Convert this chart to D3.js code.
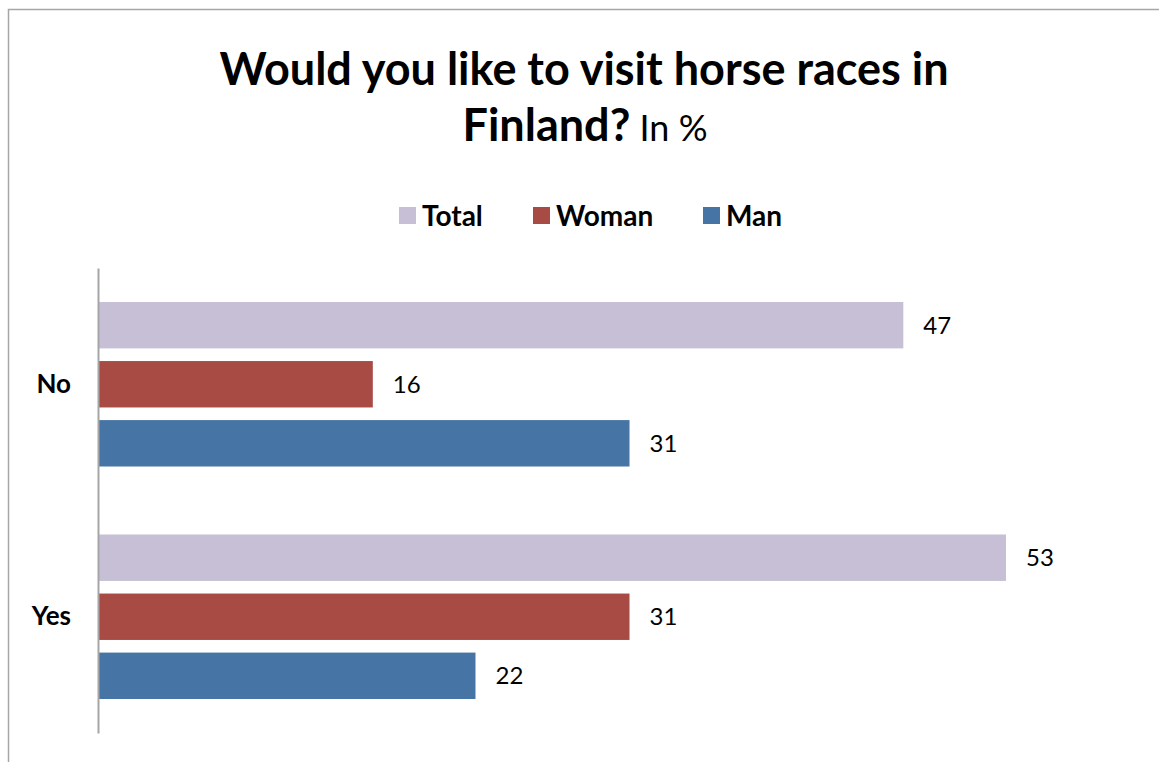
<!DOCTYPE html>
<html>
<head>
<meta charset="utf-8">
<script src="https://cdn.jsdelivr.net/npm/d3@7"></script>
<style>
  html, body { margin: 0; padding: 0; background: #fff; }
  svg { display: block; font-family: Lato, "Open Sans", sans-serif; }
</style>
</head>
<body>
<svg id="chart" width="1159" height="762"></svg>
<script>
// Survey answers, in percent
const categories = ["No", "Yes"];
const seriesNames = ["Total", "Woman", "Man"];
const totalValues = [47, 53];
const womanValues = [16, 31];
const manValues = [31, 22];
const seriesColors = ["#c6bfd6", "#a84b45", "#4674a4"];

const rows = categories.map((c, i) => ({
  category: c,
  values: [totalValues[i], womanValues[i], manValues[i]]
}));

const svg = d3.select("#chart");
const W = 1159, H = 762;

// Chart frame
svg.append("rect")
  .attr("x", 8.5).attr("y", 9.5)
  .attr("width", W + 10).attr("height", H + 10)
  .attr("fill", "#fff").attr("stroke", "#a6a6a6").attr("stroke-width", 1.5);

// Title
const title = svg.append("text").attr("text-anchor", "middle").attr("fill", "#000");
title.append("tspan").attr("x", 584).attr("y", 85)
  .attr("font-size", 45).attr("font-weight", "bold")
  .text("Would you like to visit horse races in");
const t2 = title.append("tspan").attr("x", 585).attr("y", 141);
t2.append("tspan").attr("font-size", 45).attr("font-weight", "bold").text("Finland?");
t2.append("tspan").attr("font-size", 36).attr("font-weight", "normal").text(" In %");

// Legend
const legendX = [399, 533, 703];
const legend = svg.append("g");
seriesNames.forEach((name, i) => {
  const g = legend.append("g").attr("transform", `translate(${legendX[i]},207)`);
  g.append("rect").attr("width", 17).attr("height", 17).attr("fill", seriesColors[i]);
  g.append("text").attr("x", 23).attr("y", 19)
    .attr("font-size", 28).attr("font-weight", "bold").attr("fill", "#000")
    .text(name);
});

// Scales
const x0 = 99;
const x = d3.scaleLinear().domain([0, 53]).range([x0, 1006]);
const y = d3.scaleBand().domain(categories).range([268, 733]);
const ySeries = d3.scaleBand().domain(seriesNames)
  .range([34, y.bandwidth() - 34]).paddingInner(0.214);

// Bars and value labels
const groups = svg.append("g").selectAll("g")
  .data(rows).join("g")
  .attr("transform", d => `translate(0,${y(d.category)})`);

groups.selectAll("rect")
  .data(d => d.values.map((v, i) => ({ v, i })))
  .join("rect")
  .attr("x", x(0))
  .attr("y", d => ySeries(seriesNames[d.i]))
  .attr("width", d => x(d.v) - x(0))
  .attr("height", ySeries.bandwidth())
  .attr("fill", d => seriesColors[d.i]);

groups.selectAll("text")
  .data(d => d.values.map((v, i) => ({ v, i })))
  .join("text")
  .attr("x", d => x(d.v) + 20)
  .attr("y", d => ySeries(seriesNames[d.i]) + ySeries.bandwidth() / 2)
  .attr("dy", "0.35em")
  .attr("font-size", 24).attr("fill", "#000")
  .text(d => d.v);

// Category axis
const axis = svg.append("g").attr("transform", `translate(${x0 - 1},0)`)
  .call(d3.axisLeft(y).tickSize(0).tickPadding(27));
axis.select(".domain").attr("stroke", "#a6a6a6").attr("stroke-width", 2);
axis.selectAll(".tick text")
  .attr("font-size", 26).attr("font-weight", "bold").attr("fill", "#000")
  .attr("font-family", "Lato, 'Open Sans', sans-serif");
</script>
</body>
</html>
